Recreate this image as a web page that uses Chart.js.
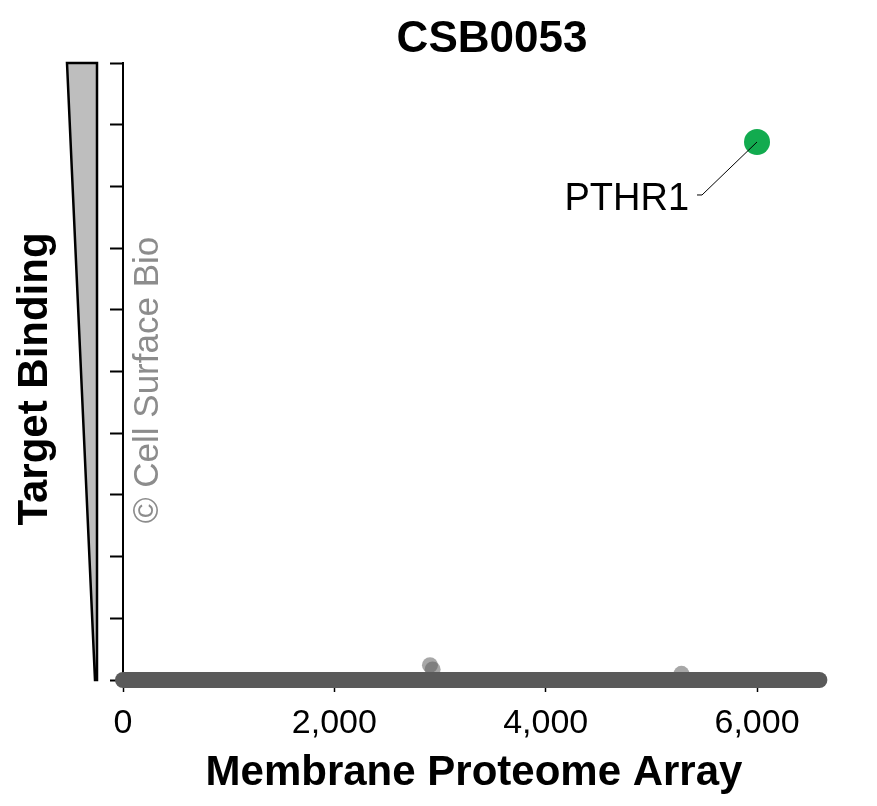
<!DOCTYPE html>
<html>
<head>
<meta charset="utf-8">
<script src="https://cdn.jsdelivr.net/npm/chart.js@4.4.1/dist/chart.umd.min.js"></script>
<style>
  body { margin: 0; background: #fff; }
  canvas { display: block; }
</style>
</head>
<body>
<canvas id="mpaChart" width="877" height="806"></canvas>
<script>
// Chart data
const chartTitle = 'CSB0053';
const xTitle = 'Membrane Proteome Array';
const yTitle = 'Target Binding';
const watermark = '\u00A9 Cell Surface Bio';

// the dense band of non-binding proteins along zero (first and last position)
const bandX = [0, 6590];
const bandY = [0, 0];

// the few weak off-target points that peek above the band
const weakX = [2905, 2930, 5285];
const weakY = [0.24, 0.17, 0.1];

// the specific hit
const hitX = [6000];
const hitY = [8.72];
const hitLabels = ['PTHR1'];

const xTicks = [0, 2000, 4000, 6000];

const FONT = '"Liberation Sans", Arial, Helvetica, sans-serif';

function toPoints(xs, ys) {
  return xs.map((x, i) => ({ x: x, y: ys[i] }));
}

// Draws title, axis titles, the wedge, watermark and the hit label
const decorPlugin = {
  id: 'decor',
  afterDraw(chart) {
    const c = chart.ctx;
    const area = chart.chartArea;
    const xs = chart.scales.x;
    const ys = chart.scales.y;
    c.save();

    // title
    c.fillStyle = '#000';
    c.font = 'bold 44px ' + FONT;
    c.textAlign = 'center';
    c.textBaseline = 'middle';
    c.fillText(chartTitle, 492, 40);

    // x title
    c.font = 'bold 42px ' + FONT;
    c.fillText(xTitle, 474, 773);

    // y title (rotated)
    c.save();
    c.translate(35, 379);
    c.rotate(-Math.PI / 2);
    c.fillText(yTitle, 0, 0);
    c.restore();

    // watermark
    c.save();
    c.translate(148, 380);
    c.rotate(-Math.PI / 2);
    c.fillStyle = '#8c8c8c';
    c.font = '35px ' + FONT;
    c.fillText(watermark, 0, 0);
    c.restore();

    // wedge next to the y axis
    c.beginPath();
    c.moveTo(67, area.top);
    c.lineTo(97, area.top);
    c.lineTo(97, area.bottom);
    c.lineTo(95, area.bottom);
    c.closePath();
    c.fillStyle = '#bebebe';
    c.fill();
    c.lineWidth = 2.5;
    c.strokeStyle = '#000';
    c.lineJoin = 'miter';
    c.stroke();

    // hit label with leader line
    hitX.forEach((hx, i) => {
      const px = xs.getPixelForValue(hx);
      const py = ys.getPixelForValue(hitY[i]);
      c.beginPath();
      c.moveTo(px, py);
      c.lineTo(px - 55, py + 53);
      c.lineTo(px - 60, py + 53);
      c.lineWidth = 1;
      c.strokeStyle = '#000';
      c.stroke();
      c.fillStyle = '#000';
      c.font = '38px ' + FONT;
      c.textAlign = 'right';
      c.textBaseline = 'alphabetic';
      c.fillText(hitLabels[i], px - 68, py + 68);
    });

    c.restore();
  }
};

const chart = new Chart(document.getElementById('mpaChart').getContext('2d'), {
  type: 'scatter',
  data: {
    datasets: [
      {
        type: 'line',
        label: 'band',
        data: toPoints(bandX, bandY),
        borderColor: '#5a5a5a',
        borderWidth: 16,
        borderCapStyle: 'round',
        pointRadius: 0,
        fill: false,
        clip: false
      },
      {
        label: 'weak',
        data: toPoints(weakX, weakY),
        backgroundColor: 'rgba(95,95,95,0.55)',
        borderWidth: 0,
        pointRadius: 8,
        clip: false
      },
      {
        label: 'hit',
        data: toPoints(hitX, hitY),
        backgroundColor: '#12ab4f',
        borderWidth: 0,
        pointRadius: 13,
        clip: false
      }
    ]
  },
  options: {
    responsive: false,
    animation: false,
    layout: {
      padding: { top: 63, left: 93, right: 46, bottom: 0 }
    },
    plugins: {
      legend: { display: false },
      tooltip: { enabled: false },
      title: { display: false }
    },
    scales: {
      x: {
        type: 'linear',
        min: 0,
        max: 6700,
        afterFit: (scale) => { scale.height = 126; },
        afterBuildTicks: (scale) => { scale.ticks = xTicks.map(v => ({ value: v })); },
        border: { display: false },
        grid: {
          drawOnChartArea: false,
          drawTicks: true,
          tickLength: 12,
          tickColor: '#000',
          tickWidth: 1.5
        },
        ticks: {
          color: '#000',
          padding: 11,
          maxRotation: 0,
          font: { family: FONT, size: 34 },
          callback: (value) => value.toLocaleString('en-US')
        }
      },
      y: {
        type: 'linear',
        min: 0,
        max: 10,
        afterFit: (scale) => { scale.width = 30; },
        border: { display: true, color: '#000', width: 2 },
        grid: {
          drawOnChartArea: false,
          drawTicks: true,
          tickLength: 13,
          tickColor: '#000',
          tickWidth: 2
        },
        ticks: {
          stepSize: 1,
          callback: () => ''
        }
      }
    }
  },
  plugins: [decorPlugin]
});
</script>
</body>
</html>
